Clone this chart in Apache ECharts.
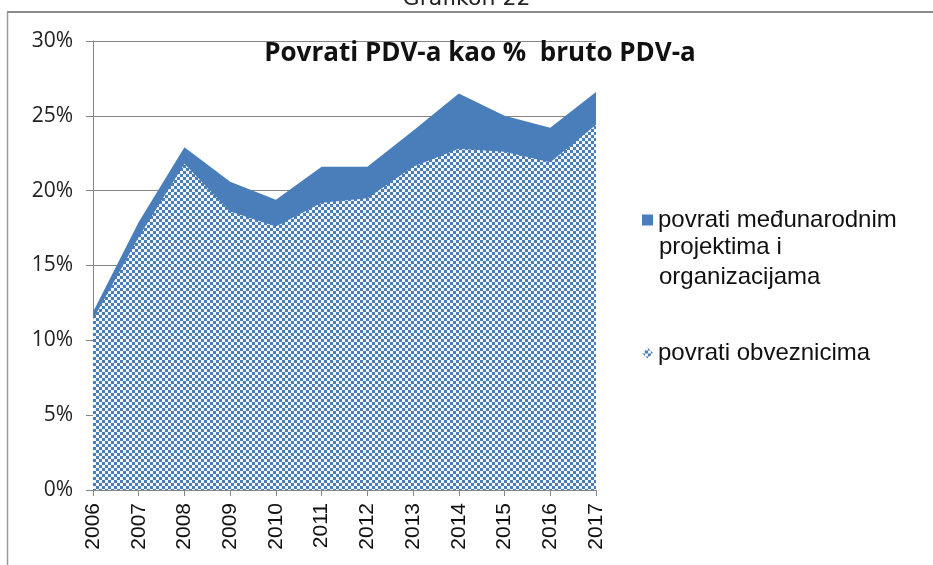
<!DOCTYPE html>
<html>
<head>
<meta charset="utf-8">
<script src="https://cdn.jsdelivr.net/npm/echarts@6/dist/echarts.min.js"></script>
<style>
  html, body { margin: 0; padding: 0; background: #fff; }
  #chart { width: 933px; height: 565px; }
</style>
</head>
<body>
<div id="chart"></div>
<script>
// values (percent)
var years = ['2006', '2007', '2008', '2009', '2010', '2011', '2012', '2013', '2014', '2015', '2016', '2017']
// top edge of the stack = total refunds
var ukupno = [11.9, 17.9, 22.9, 20.6, 19.4, 21.6, 21.6, 24.0, 26.5, 25.0, 24.2, 26.6]
// lower (checkered) part = refunds to taxpayers
var obveznicima = [11.4, 16.9, 21.8, 18.6, 17.6, 19.2, 19.5, 21.6, 22.8, 22.6, 21.9, 24.4]

var blue = '#4a7ebb'
var nameMedj = 'povrati međunarodnim projektima i organizacijama'
var nameObv = 'povrati obveznicima'

// checkerboard fill like the excel pattern
function checker () {
  var c = document.createElement('canvas')
  c.width = 6
  c.height = 6
  var ctx = c.getContext('2d')
  ctx.fillStyle = '#f2f6fc'
  ctx.fillRect(0, 0, 6, 6)
  ctx.fillStyle = blue
  ctx.fillRect(0, 0, 3, 3)
  ctx.fillRect(3, 3, 3, 3)
  return c
}
var pattern = { image: checker(), repeat: 'repeat' }

var chart = echarts.init(document.getElementById('chart'))
var option = {
  backgroundColor: '#fff',
  animation: false,
  title: {
    text: 'Povrati PDV-a kao %  bruto PDV-a',
    left: 475,
    textAlign: 'center',
    top: 36,
    textStyle: {
      fontFamily: 'Open Sans',
      fontWeight: 'bold',
      fontSize: 26,
      color: '#111'
    }
  },
  graphic: [
    {
      type: 'text',
      left: 'center',
      top: -12,
      style: { text: 'Grafikon 22', font: '22px "DejaVu Sans"', fill: '#222' }
    },
    {
      type: 'line',
      shape: { x1: 7, y1: 12, x2: 933, y2: 12 },
      style: { stroke: '#8a8a8a', lineWidth: 2 }
    },
    {
      type: 'line',
      shape: { x1: 7.5, y1: 12, x2: 7.5, y2: 565 },
      style: { stroke: '#9a9a9a', lineWidth: 1.5 }
    },
    // rest of the wrapped legend label
    {
      type: 'text',
      left: 659,
      top: 232,
      style: {
        text: 'projektima i\norganizacijama',
        font: '24px "Liberation Sans"',
        lineHeight: 30,
        fill: '#111'
      }
    }
  ],
  legend: {
    orient: 'vertical',
    left: 637,
    top: 200,
    itemGap: 103,
    itemWidth: 11,
    itemHeight: 11,
    textStyle: {
      fontFamily: 'Liberation Sans',
      fontSize: 24,
      lineHeight: 30,
      color: '#111'
    },
    formatter: function (name) {
      return name === nameMedj ? 'povrati međunarodnim' : name
    },
    data: [
      { name: nameMedj, icon: 'rect' },
      { name: nameObv, icon: 'diamond' }
    ]
  },
  grid: {
    left: 93,
    right: 337,
    top: 41,
    bottom: 75
  },
  xAxis: {
    type: 'category',
    data: years,
    boundaryGap: false,
    axisLine: { lineStyle: { color: '#868686', width: 1 } },
    axisTick: { show: true, length: 6, lineStyle: { color: '#868686' } },
    axisLabel: {
      rotate: 90,
      fontFamily: 'Liberation Sans',
      fontSize: 21,
      color: '#111',
      margin: 13
    }
  },
  yAxis: {
    type: 'value',
    min: 0,
    max: 30,
    interval: 5,
    axisLine: { show: true, lineStyle: { color: '#868686' } },
    axisTick: { show: true, length: 7, lineStyle: { color: '#868686' } },
    axisLabel: {
      formatter: '{value}%',
      fontFamily: 'Open Sans',
      fontSize: 21,
      color: '#222',
      margin: 20
    },
    splitLine: { lineStyle: { color: '#868686', width: 1 } }
  },
  series: [
    {
      name: nameMedj,
      type: 'line',
      data: ukupno,
      symbol: 'none',
      lineStyle: { width: 0 },
      itemStyle: { color: blue },
      areaStyle: { color: blue, opacity: 1 },
      z: 2
    },
    {
      name: nameObv,
      type: 'line',
      data: obveznicima,
      symbol: 'none',
      lineStyle: { width: 0 },
      itemStyle: { color: pattern },
      areaStyle: { color: pattern, opacity: 1 },
      z: 3
    }
  ]
}
chart.setOption(option)
</script>
</body>
</html>
